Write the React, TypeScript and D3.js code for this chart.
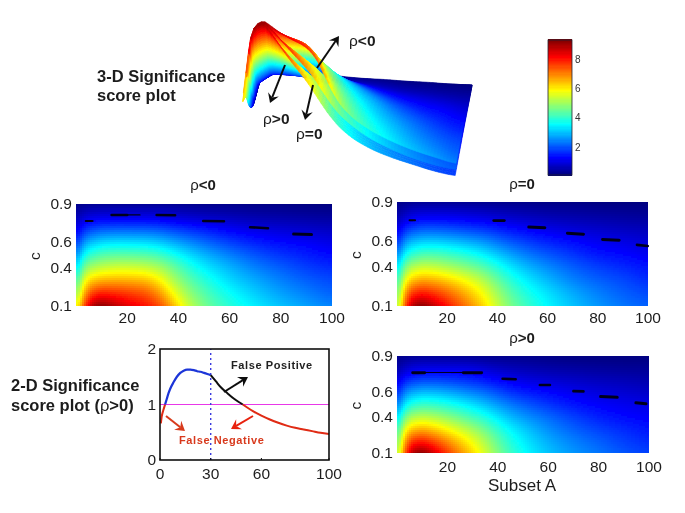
import React from "react";
import * as d3 from "d3";

const subsetGrid = [1, 4, 8, 12, 20, 30, 36, 42, 50, 60, 70, 80, 90, 100];
const cGrid = [0.1, 0.2, 0.3, 0.4, 0.5, 0.6, 0.7, 0.8, 0.9];

const scoreNeg = [
  [6.0, 8.0, 9.4, 9.1, 8.4, 7.9, 7.0, 5.6, 4.6, 3.9, 3.4, 3.0, 2.7, 2.4],
  [5.2, 7.0, 7.9, 7.9, 7.7, 7.3, 6.2, 5.1, 4.3, 3.6, 3.1, 2.7, 2.4, 2.1],
  [4.5, 6.0, 6.5, 6.6, 6.6, 6.4, 5.4, 4.6, 3.9, 3.2, 2.8, 2.4, 2.1, 1.9],
  [3.6, 4.9, 5.2, 5.4, 5.5, 5.3, 4.8, 4.1, 3.4, 2.9, 2.4, 2.1, 1.8, 1.6],
  [2.8, 3.8, 4.2, 4.4, 4.4, 4.3, 3.9, 3.4, 2.9, 2.4, 2.0, 1.7, 1.5, 1.3],
  [1.9, 2.8, 3.1, 3.3, 3.3, 3.2, 2.9, 2.6, 2.2, 1.8, 1.5, 1.3, 1.2, 1.0],
  [1.2, 1.7, 2.0, 2.1, 2.1, 2.1, 1.9, 1.7, 1.5, 1.2, 1.0, 0.9, 0.8, 0.7],
  [0.6, 0.9, 1.0, 1.0, 1.0, 1.0, 0.9, 0.8, 0.7, 0.6, 0.5, 0.45, 0.4, 0.35],
  [0.2, 0.25, 0.3, 0.3, 0.3, 0.3, 0.3, 0.25, 0.2, 0.2, 0.15, 0.15, 0.1, 0.1],
];
const scoreZero = [
  [5.5, 8.0, 9.4, 9.1, 8.0, 6.8, 6.0, 5.0, 4.2, 3.5, 3.0, 2.6, 2.3, 2.1],
  [5.0, 7.2, 8.0, 7.9, 7.3, 6.3, 5.6, 4.7, 3.9, 3.3, 2.8, 2.4, 2.1, 1.9],
  [4.4, 6.0, 6.6, 6.7, 6.3, 5.6, 5.0, 4.2, 3.5, 2.9, 2.4, 2.1, 1.9, 1.6],
  [3.6, 4.9, 5.3, 5.4, 5.1, 4.6, 4.2, 3.6, 3.0, 2.5, 2.1, 1.8, 1.6, 1.4],
  [2.7, 3.7, 4.1, 4.3, 4.1, 3.7, 3.3, 2.9, 2.4, 2.0, 1.7, 1.4, 1.3, 1.1],
  [1.8, 2.7, 3.0, 3.1, 3.0, 2.7, 2.5, 2.1, 1.8, 1.5, 1.3, 1.1, 1.0, 0.85],
  [1.1, 1.6, 1.9, 2.0, 1.9, 1.7, 1.6, 1.4, 1.2, 1.0, 0.85, 0.75, 0.65, 0.6],
  [0.5, 0.8, 1.0, 1.0, 1.0, 0.9, 0.8, 0.7, 0.6, 0.5, 0.45, 0.4, 0.35, 0.3],
  [0.2, 0.25, 0.3, 0.3, 0.3, 0.25, 0.25, 0.2, 0.2, 0.15, 0.15, 0.1, 0.1, 0.1],
];
const scorePos = [
  [5.5, 8.0, 9.4, 9.0, 7.6, 6.2, 5.3, 4.4, 3.6, 3.0, 2.6, 2.3, 2.0, 1.8],
  [5.0, 7.2, 8.0, 7.8, 6.9, 5.7, 5.0, 4.1, 3.4, 2.8, 2.4, 2.1, 1.8, 1.6],
  [4.4, 6.0, 6.5, 6.5, 5.8, 5.0, 4.4, 3.7, 3.1, 2.5, 2.1, 1.8, 1.6, 1.4],
  [3.5, 4.8, 5.2, 5.2, 4.8, 4.1, 3.7, 3.1, 2.6, 2.2, 1.8, 1.5, 1.3, 1.2],
  [2.6, 3.6, 4.0, 4.1, 3.8, 3.3, 2.9, 2.5, 2.1, 1.7, 1.4, 1.2, 1.1, 1.0],
  [1.8, 2.6, 2.9, 3.0, 2.8, 2.4, 2.2, 1.8, 1.5, 1.3, 1.1, 0.95, 0.85, 0.75],
  [1.1, 1.6, 1.8, 1.9, 1.8, 1.6, 1.4, 1.2, 1.0, 0.85, 0.75, 0.65, 0.6, 0.5],
  [0.5, 0.8, 1.0, 1.0, 1.0, 1.0, 0.8, 0.65, 0.55, 0.45, 0.4, 0.35, 0.3, 0.3],
  [0.2, 0.25, 0.3, 0.3, 0.3, 0.25, 0.2, 0.2, 0.2, 0.15, 0.1, 0.1, 0.1, 0.1],
];

// black contour fragments: [subset start, subset end, c start, c end, thickness]
const contourNeg = [[3.8, 6.5, 0.767, 0.767, 2], [13.9, 20, 0.814, 0.814, 2.6], [20, 25, 0.814, 0.814, 1.2], [31.5, 38.7, 0.814, 0.812, 2.6], [49.7, 57.8, 0.767, 0.765, 2.6], [68, 75, 0.718, 0.71, 2.6], [85, 92, 0.665, 0.66, 3]];
const contourZero = [[5, 7.2, 0.759, 0.759, 2], [38.5, 42.8, 0.757, 0.757, 2.6], [52.5, 58.9, 0.708, 0.702, 3], [67.9, 74.3, 0.66, 0.652, 3], [81.9, 88.5, 0.612, 0.606, 3], [95.6, 99.9, 0.57, 0.562, 2.6]];
const contourPos = [[6.2, 11, 0.762, 0.762, 2.8], [11, 26.3, 0.764, 0.764, 1], [26.3, 33.6, 0.762, 0.762, 2.8], [41.9, 47.1, 0.712, 0.708, 2.6], [56.7, 60.7, 0.661, 0.661, 2.6], [70, 74, 0.61, 0.608, 2.6], [80.8, 87.4, 0.565, 0.559, 3], [94.8, 98.8, 0.514, 0.506, 3]];

const curveX1 = [0.5, 1, 2, 3];
const curveY1 = [0.66, 0.78, 0.9, 1.0];
const curveX2 = [3, 4, 5, 6, 8, 10, 12, 14, 16, 18, 20, 22, 24, 26, 28, 30];
const curveY2 = [1.0, 1.1, 1.2, 1.28, 1.4, 1.5, 1.57, 1.61, 1.63, 1.63, 1.62, 1.6, 1.59, 1.57, 1.55, 1.53];
const curveX3 = [30, 33, 36, 40, 44, 49];
const curveY3 = [1.53, 1.42, 1.31, 1.2, 1.1, 1.0];
const curveX4 = [49, 55, 60, 65, 70, 75, 80, 85, 90, 95, 100];
const curveY4 = [1.0, 0.88, 0.8, 0.73, 0.67, 0.62, 0.58, 0.55, 0.52, 0.49, 0.47];

const heatXTicks = [20, 40, 60, 80, 100];
const heatYTicks = [0.1, 0.4, 0.6, 0.9];
const lineXTicks = [0, 30, 60, 100];
const lineYTicks = [0, 1, 2];
const barTicks = [2, 4, 6, 8];

const FONT = "'Liberation Sans', Arial, sans-serif";
const INK = "#1c1c1c";
const jetStops = [0, 0.125, 0.375, 0.625, 0.875, 1];
const jetColors = ["#00007f", "#0000ff", "#00ffff", "#ffff00", "#ff0000", "#7f0000"];
const jet = d3.scaleLinear<string>().domain(jetStops).range(jetColors).interpolate(d3.interpolateRgb).clamp(true);
const scoreColor = d3.scaleLinear().domain([0.1, 9.3]).range([0, 1]);
const colorOf = (v: number) => jet(scoreColor(v));

function sample(g: number[][], xIn: number, c: number) {
  const x = Math.max(1, Math.min(100, xIn));
  const i = Math.min(subsetGrid.length - 2, Math.max(0, d3.bisectRight(subsetGrid, x) - 1));
  const j = Math.min(cGrid.length - 2, Math.max(0, d3.bisectRight(cGrid, c) - 1));
  const u = (x - subsetGrid[i]) / (subsetGrid[i + 1] - subsetGrid[i]);
  const w = (c - cGrid[j]) / (cGrid[j + 1] - cGrid[j]);
  return (1 - w) * ((1 - u) * g[j][i] + u * g[j][i + 1]) + w * ((1 - u) * g[j + 1][i] + u * g[j + 1][i + 1]);
}

// shading: a small running mean over the read grid, like interpolated shading
const offs = [-1, -0.5, 0, 0.5, 1];
function shade(g: number[][], x: number, c: number) {
  const dx = Math.min(4, 0.25 * x + 0.4);
  let s = 0;
  for (const a of offs) for (const b of offs) s += sample(g, x + a * dx, c + b * 0.05);
  return Math.max(0.1, s / 25);
}

function Heat({ grid, frags, left, right, top, bottom, title, titleY, tickY, cx }: any) {
  const x = d3.scaleLinear().domain([0, 100]).range([left, right]);
  const y = d3.scaleLinear().domain([0.1, 0.9]).range([bottom, top]);
  const cells: any[] = [];
  for (let px = left; px < right; px += 2) {
    for (let py = top; py < bottom; py += 2) {
      const v = shade(grid, x.invert(px + 1), y.invert(py + 1));
      cells.push(<rect key={px + "-" + py} x={px} y={py} width={Math.min(2.3, right - px)} height={Math.min(2.3, bottom - py)} fill={colorOf(v)} />);
    }
  }
  return (
    <g fontFamily={FONT}>
      <g shapeRendering="crispEdges">{cells}</g>
      {frags.map((f: number[], i: number) => (
        <line key={i} x1={x(f[0])} x2={x(f[1])} y1={y(f[2])} y2={y(f[3])} stroke="#05051e" strokeWidth={f[4]} strokeLinecap="round" />
      ))}
      {heatXTicks.map((t) => (
        <text key={t} x={x(t)} y={tickY} textAnchor="middle" fontSize={15.5} fill={INK}>{t}</text>
      ))}
      {heatYTicks.map((t) => (
        <text key={t} x={left - 4} y={y(t) + 5} textAnchor="end" fontSize={15.5} fill={INK}>{t}</text>
      ))}
      <text x={cx} y={titleY} textAnchor="middle" fontSize={15} fill={INK}>
        ρ<tspan fontWeight="bold">{title}</tspan>
      </text>
      <text transform={`translate(${left - 36},${(top + bottom) / 2 + 1}) rotate(-90)`} textAnchor="middle" fontSize={15.5} fill={INK}>c</text>
    </g>
  );
}

function Surface3D() {
  const along = d3.scaleLinear().domain([1, 100]).range([0, 1]);
  const back = d3.scaleLinear().domain([0.9, 0.1]).range([0, 1]);
  const droop = d3.scaleLinear().domain([1, 5, 12, 100]).range([24, 10, 0, 0]);
  const lean = d3.scaleLinear().domain([1, 6, 12, 30]).range([0, -6, -5, 0]);
  const project = (x: number, c: number, z: number): [number, number] => {
    const a = along(x), b = back(c);
    return [255 + 217 * a - 19 * b + 1.2 * z + lean(Math.min(x, 30)), 78 + 9 * a + 125 * b - 20 * z + droop(x) * (1 - 0.5 * b)];
  };
  const xs = d3.range(1, 100, 1.5).concat([100]);
  const cs = d3.range(0.9, 0.1, -0.02).concat([0.1]);
  const quads: any[] = [];
  cs.slice(0, -1).forEach((c, j) => {
    const c2 = cs[j + 1];
    [scorePos, scoreZero, scoreNeg].forEach((g, s) => {
      xs.slice(0, -1).forEach((x, i) => {
        const x2 = xs[i + 1];
        const pts = [project(x, c, shade(g, x, c)), project(x2, c, shade(g, x2, c)), project(x2, c2, shade(g, x2, c2)), project(x, c2, shade(g, x, c2))];
        const col = colorOf(shade(g, (x + x2) / 2, (c + c2) / 2));
        quads.push(<polygon key={`${s}-${j}-${i}`} points={pts.map((p) => p.join(",")).join(" ")} fill={col} stroke={col} strokeWidth={0.6} />);
      });
    });
  });
  return <g>{quads}</g>;
}

function Arrow({ x1, y1, x2, y2, color, w = 2 }: any) {
  const a = Math.atan2(y2 - y1, x2 - x1);
  const L = 11, W = 0.55;
  const hx1 = x2 - L * Math.cos(a - W), hy1 = y2 - L * Math.sin(a - W);
  const hx2 = x2 - L * Math.cos(a + W), hy2 = y2 - L * Math.sin(a + W);
  const nx = x2 - 6 * Math.cos(a), ny = y2 - 6 * Math.sin(a);
  return (
    <g>
      <line x1={x1} y1={y1} x2={nx} y2={ny} stroke={color} strokeWidth={w} />
      <polygon points={`${x2},${y2} ${hx1},${hy1} ${nx},${ny} ${hx2},${hy2}`} fill={color} />
    </g>
  );
}

function LinePlot() {
  const x = d3.scaleLinear().domain([0, 100]).range([160, 329]);
  const y = d3.scaleLinear().domain([0, 2]).range([460, 349]);
  const path = (xs: number[], ys: number[]) =>
    d3.line<number>().x((d) => x(d)).y((_, i) => y(ys[i])).curve(d3.curveMonotoneX)(xs) as string;
  return (
    <g fontFamily={FONT}>
      <line x1={x(0)} x2={x(100)} y1={y(1)} y2={y(1)} stroke="#e838e8" strokeWidth={1} />
      <line x1={x(30)} x2={x(30)} y1={y(0)} y2={y(2)} stroke="#3a3ae0" strokeWidth={1.4} strokeDasharray="2 3" />
      <path d={path(curveX1, curveY1)} fill="none" stroke="#e02a12" strokeWidth={2} />
      <path d={path(curveX2, curveY2)} fill="none" stroke="#1c35d8" strokeWidth={2.2} />
      <path d={path(curveX3, curveY3)} fill="none" stroke="#111" strokeWidth={2} />
      <path d={path(curveX4, curveY4)} fill="none" stroke="#e02a12" strokeWidth={2} />
      <rect x={x(0)} y={y(2)} width={x(100) - x(0)} height={y(0) - y(2)} fill="none" stroke="#111" strokeWidth={1.6} />
      {lineXTicks.map((t) => (
        <g key={t}>
          <line x1={x(t)} x2={x(t)} y1={y(0)} y2={y(0) - 2} stroke="#111" />
          <text x={x(t)} y={479} textAnchor="middle" fontSize={15.5} fill={INK}>{t}</text>
        </g>
      ))}
      {lineYTicks.map((t) => (
        <text key={t} x={156} y={y(t) + 5} textAnchor="end" fontSize={15.5} fill={INK}>{t}</text>
      ))}
      <Arrow x1={224} y1={392} x2={248} y2={377} color="#111" />
      <Arrow x1={166} y1={416} x2={185} y2={431} color="#d83a1c" />
      <Arrow x1={253} y1={416} x2={231} y2={429} color="#e8200e" />
      <text x={231} y={369} fontSize={11} fontWeight="bold" letterSpacing={0.6} fill="#222">False Positive</text>
      <text x={179} y={444} fontSize={11} fontWeight="bold" letterSpacing={0.6} fill="#d8391c">False Negative</text>
    </g>
  );
}

function ColorBar() {
  const y = d3.scaleLinear().domain([0.1, 9.3]).range([175, 40]);
  const levels = d3.range(0.1, 9.3, 0.08);
  return (
    <g fontFamily={FONT}>
      <g shapeRendering="crispEdges">
        {levels.map((v) => (
          <rect key={v} x={548} width={24} y={y(v + 0.08)} height={y(v) - y(v + 0.08) + 0.6} fill={colorOf(v)} />
        ))}
      </g>
      <rect x={548} y={40} width={24} height={135} fill="none" stroke="#223" strokeWidth={0.8} />
      {barTicks.map((t) => (
        <text key={t} x={575} y={y(t) + 3.5} fontSize={10} fill="#333">{t}</text>
      ))}
    </g>
  );
}

export default function App() {
  return (
    <svg width={685} height={513} viewBox="0 0 685 513" style={{ position: "absolute", left: 0, top: 0, background: "#fff" }}>
      <defs>
        <filter id="soft" x="0" y="0" width="100%" height="100%">
          <feGaussianBlur stdDeviation="0.4" />
        </filter>
      </defs>
      <g filter="url(#soft)">
        <Surface3D />
        <g fontFamily={FONT} fill={INK}>
          <Arrow x1={317} y1={68} x2={339} y2={36} color="#111" />
          <Arrow x1={285} y1={65} x2={270} y2={103} color="#111" />
          <Arrow x1={313} y1={85} x2={305} y2={120} color="#111" />
          <text x={349} y={46} fontSize={15.5}>ρ<tspan fontWeight="bold">&lt;0</tspan></text>
          <text x={263} y={124} fontSize={15.5}>ρ<tspan fontWeight="bold">&gt;0</tspan></text>
          <text x={296} y={139} fontSize={15.5}>ρ<tspan fontWeight="bold">=0</tspan></text>
          <text x={97} y={82} fontSize={16.5} fontWeight="bold">3-D Significance</text>
          <text x={97} y={101} fontSize={16.5} fontWeight="bold">score plot</text>
          <text x={11} y={391} fontSize={16.5} fontWeight="bold">2-D Significance</text>
          <text x={11} y={411} fontSize={16.5} fontWeight="bold">score plot (<tspan fontWeight="normal">ρ</tspan>&gt;0)</text>
        </g>
        <ColorBar />
        <Heat grid={scoreNeg} frags={contourNeg} left={76} right={332} top={204} bottom={306} title="<0" titleY={190} tickY={323} cx={203} />
        <Heat grid={scoreZero} frags={contourZero} left={397} right={648} top={202} bottom={306} title="=0" titleY={189} tickY={323} cx={522} />
        <Heat grid={scorePos} frags={contourPos} left={397} right={649} top={356} bottom={453} title=">0" titleY={343} tickY={472} cx={522} />
        <text x={522} y={491} textAnchor="middle" fontSize={17} fontFamily={FONT} fill={INK}>Subset A</text>
        <LinePlot />
      </g>
    </svg>
  );
}
